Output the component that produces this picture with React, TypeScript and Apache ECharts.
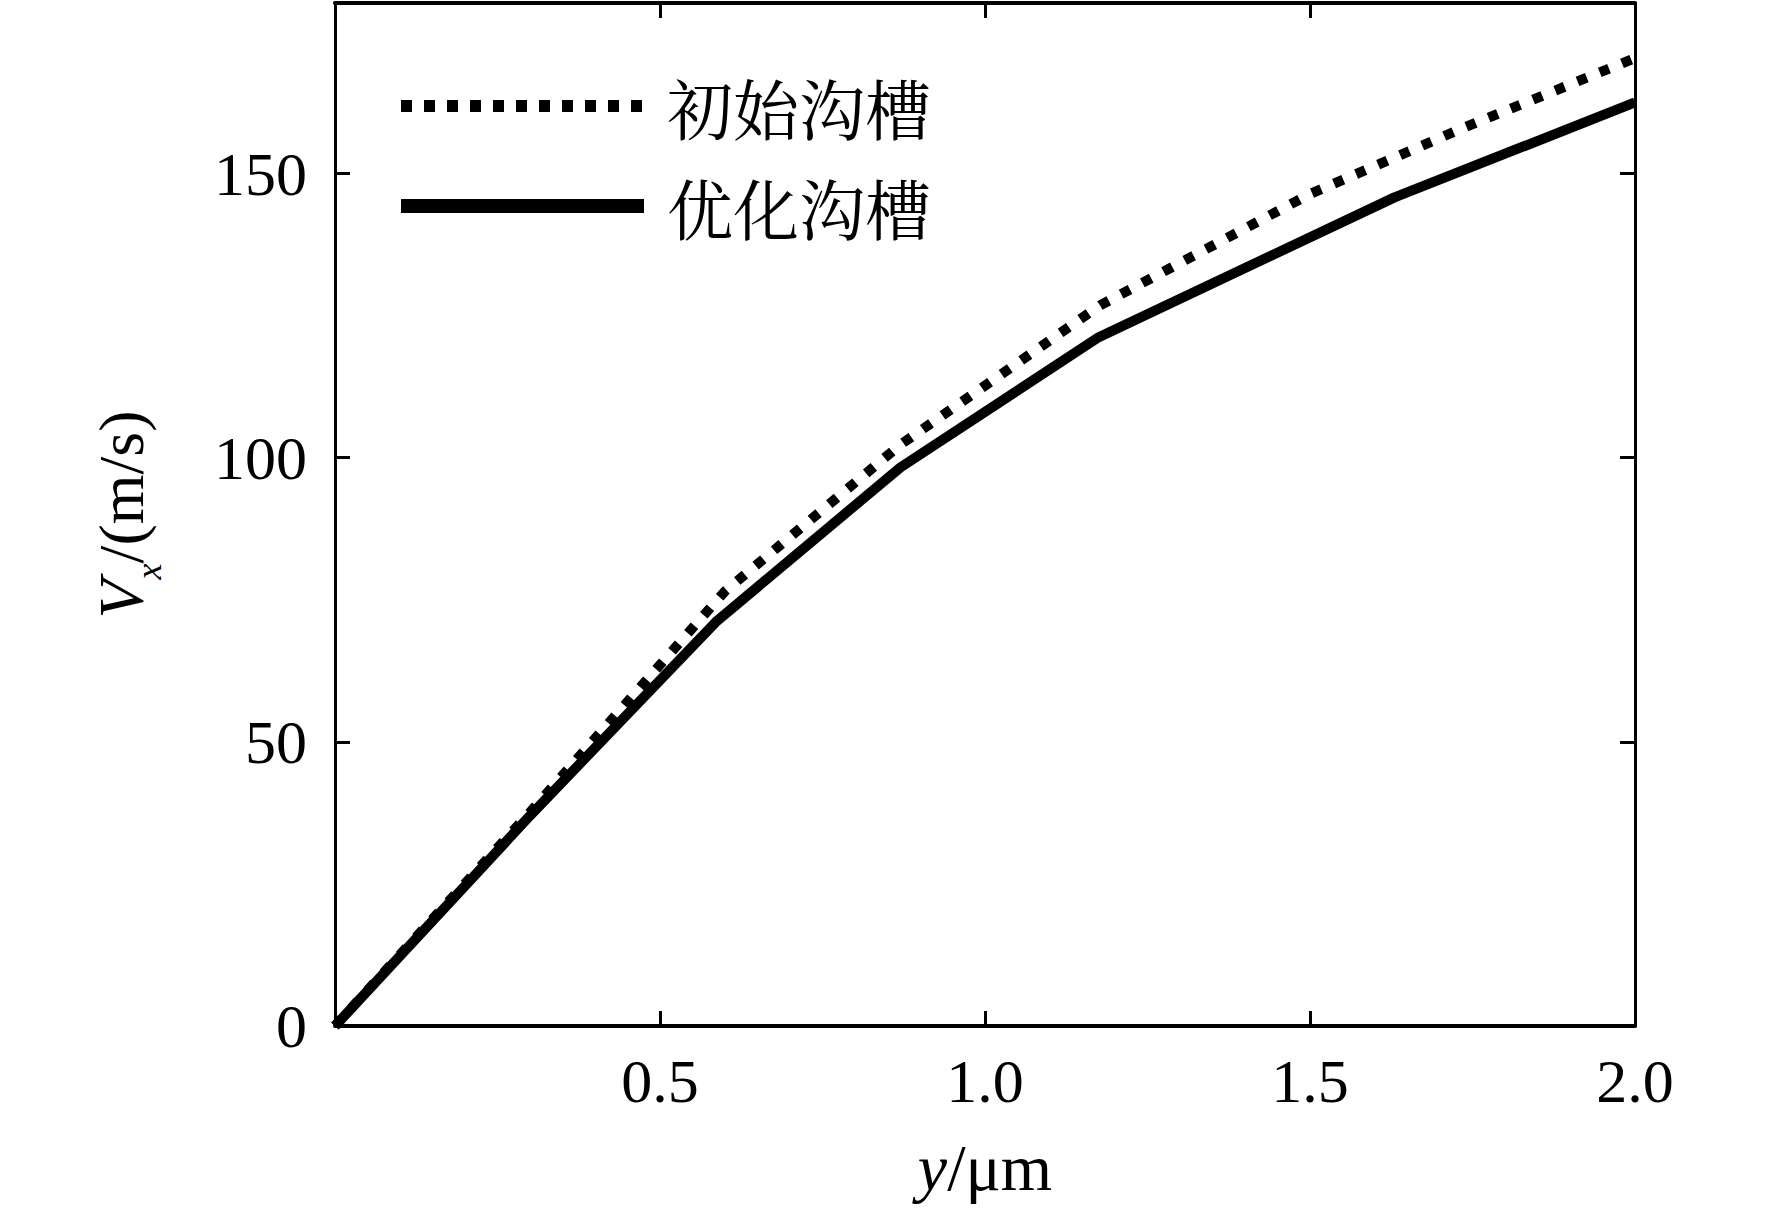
import React, { useEffect, useRef } from "react";
import * as echarts from "echarts";

// ---- data ----
const seriesNames = ["初始沟槽", "优化沟槽"];

// 初始沟槽 (dotted)
const initialY = [0, 0.3, 0.6, 0.87, 1.177, 1.5, 1.731, 2.0];
const initialVx = [0, 37.6, 76.5, 102.3, 126.8, 146.4, 157.8, 170.3];

// 优化沟槽 (solid)
const optimizedY = [0, 0.3, 0.586, 0.87, 1.175, 1.63, 2.0];
const optimizedVx = [0, 37.0, 71.1, 98.3, 121.2, 145.8, 162.5];

const xMin = 0;
const xMax = 2.0;
const xInterval = 0.5;
const yMin = 0;
const yMax = 180;
const yInterval = 50;

const SERIF = '"Liberation Serif", "Times New Roman", "DejaVu Serif", serif';
const CJK = '"Noto Serif CJK SC", "Noto Sans CJK SC", "Noto Sans CJK JP", sans-serif';

export default function App() {
  const ref = useRef<HTMLDivElement>(null);

  useEffect(() => {
    document.body.style.margin = "0";
    if (!ref.current) return;
    const chart = echarts.init(ref.current, null, { renderer: "svg" });

    const pairs = (xs: number[], ys: number[]) => xs.map((x, i) => [x, ys[i]]);

    const axisLine = (w: number) => ({ show: true, onZero: false, lineStyle: { color: "#000", width: w } });
    const tick = { show: true, inside: true, length: 15, lineStyle: { color: "#000", width: 3 } };
    const hiddenSymbol = { color: "rgba(0,0,0,0)", opacity: 0, borderWidth: 0 };

    chart.setOption({
      animation: false,
      backgroundColor: "#fff",
      grid: { left: 335, right: 137, top: 3, bottom: 183, containLabel: false },
      legend: {
        orient: "vertical",
        left: 389,
        top: 68,
        itemWidth: 243,
        itemHeight: 64,
        itemGap: 34,
        selectedMode: false,
        textStyle: { fontFamily: CJK, fontSize: 66, color: "#000", padding: [0, 0, 14, 18] },
        data: [
          {
            name: seriesNames[0],
            itemStyle: hiddenSymbol,
            lineStyle: { width: 12, type: [11, 12], color: "#000" },
          },
          {
            name: seriesNames[1],
            itemStyle: hiddenSymbol,
            lineStyle: { width: 14, type: "solid", color: "#000" },
          },
        ],
      },
      xAxis: [
        {
          type: "value",
          position: "bottom",
          min: xMin,
          max: xMax,
          interval: xInterval,
          axisLine: axisLine(4),
          axisTick: tick,
          splitLine: { show: false },
          axisLabel: {
            margin: 24,
            fontFamily: SERIF,
            fontSize: 62,
            color: "#000",
            formatter: (v: number) => (v === 0 ? "" : v.toFixed(1)),
          },
          name: "{i|y}{n|/μm}",
          nameLocation: "middle",
          nameGap: 108,
          nameTextStyle: {
            rich: {
              i: { fontFamily: SERIF, fontSize: 66, fontStyle: "italic", color: "#000" },
              n: { fontFamily: SERIF, fontSize: 66, color: "#000" },
            },
          },
        },
        {
          type: "value",
          position: "top",
          min: xMin,
          max: xMax,
          interval: xInterval,
          axisLine: axisLine(4),
          axisTick: tick,
          axisLabel: { show: false },
          splitLine: { show: false },
        },
      ],
      yAxis: [
        {
          type: "value",
          position: "left",
          min: yMin,
          max: yMax,
          interval: yInterval,
          axisLine: axisLine(3),
          axisTick: tick,
          splitLine: { show: false },
          axisLabel: {
            margin: 28,
            fontFamily: SERIF,
            fontSize: 62,
            color: "#000",
            showMaxLabel: false,
            formatter: (v: number) => (v % 50 === 0 ? String(v) : ""),
          },
          name: "{i|V}{s|x}{n|/(m/s)}",
          nameLocation: "middle",
          nameGap: 182,
          nameTextStyle: {
            rich: {
              i: { fontFamily: SERIF, fontSize: 64, lineHeight: 64, fontStyle: "italic", color: "#000", verticalAlign: "top" },
              s: {
                fontFamily: SERIF,
                fontSize: 36,
                lineHeight: 36,
                fontStyle: "italic",
                color: "#000",
                verticalAlign: "top",
                padding: [42, 0, 0, 0],
              },
              n: { fontFamily: SERIF, fontSize: 64, lineHeight: 64, color: "#000", verticalAlign: "top" },
            },
          },
        },
        {
          type: "value",
          position: "right",
          min: yMin,
          max: yMax,
          interval: yInterval,
          axisLine: axisLine(3),
          axisTick: tick,
          axisLabel: { show: false },
          splitLine: { show: false },
        },
      ],
      series: [
        {
          name: seriesNames[0],
          type: "line",
          xAxisIndex: 0,
          yAxisIndex: 0,
          symbol: "none",
          data: pairs(initialY, initialVx),
          lineStyle: { color: "#000", width: 10, type: [10, 14], cap: "butt" },
          itemStyle: { color: "#000" },
        },
        {
          name: seriesNames[1],
          type: "line",
          xAxisIndex: 0,
          yAxisIndex: 0,
          symbol: "none",
          data: pairs(optimizedY, optimizedVx),
          lineStyle: { color: "#000", width: 10, type: "solid" },
          itemStyle: { color: "#000" },
        },
      ],
    });

    return () => chart.dispose();
  }, []);

  return <div ref={ref} style={{ width: 1772, height: 1209, background: "#fff" }} />;
}
